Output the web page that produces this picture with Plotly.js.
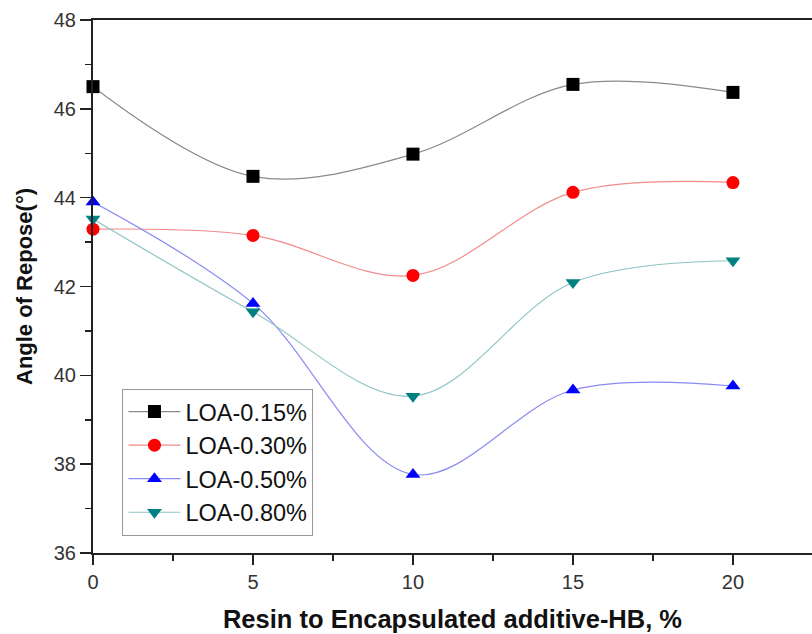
<!DOCTYPE html>
<html>
<head>
<meta charset="utf-8">
<script src="https://cdn.plot.ly/plotly-3.0.1.min.js"></script>
<style>html,body{margin:0;padding:0;background:#fff;}#chart{width:812px;height:634px;}</style>
</head>
<body>
<div id="chart"></div>
<script>
const xValues = [0, 5, 10, 15, 20];
const loa015 = [46.50, 44.48, 44.98, 46.55, 46.37];
const loa030 = [43.29, 43.15, 42.25, 44.12, 44.34];
const loa050 = [43.90, 41.62, 37.77, 39.67, 39.76];
const loa080 = [43.52, 41.43, 39.53, 42.09, 42.58];
const seriesNames = ["LOA-0.15%", "LOA-0.30%", "LOA-0.50%", "LOA-0.80%"];

function tr(name, y, sym, mcol, lcol) {
  return {
    x: xValues, y: y, name: name, type: 'scatter', mode: 'lines+markers',
    line: {shape: 'spline', smoothing: 1, color: lcol, width: 1.2},
    marker: {symbol: sym, color: mcol, size: 13, line: {width: 0}},
    cliponaxis: false
  };
}
const data = [
  tr(seriesNames[0], loa015, 'square', '#000000', '#8a8a8a'),
  tr(seriesNames[1], loa030, 'circle', '#ff0000', '#f28a8a'),
  tr(seriesNames[2], loa050, 'triangle-up', '#0000ff', '#8a8af2'),
  tr(seriesNames[3], loa080, 'triangle-down', '#008080', '#8cc4c4')
];
const layout = {
  width: 812, height: 634,
  margin: {l: 93, r: 0, t: 20, b: 81},
  paper_bgcolor: '#fff', plot_bgcolor: '#fff',
  font: {family: 'Arial, Liberation Sans, sans-serif', color: '#333'},
  showlegend: true,
  legend: {x: 0.041, y: 0.308, xanchor: 'left', yanchor: 'top',
    bordercolor: '#999', borderwidth: 1, bgcolor: '#fff',
    font: {size: 23.5, color: '#111'}, tracegroupgap: 0, itemwidth: 52},
  xaxis: {range: [0, 22.47], tickvals: [0, 5, 10, 15, 20], ticktext: ['0','5','10','15','20'],
    ticks: 'outside', ticklen: 10, tickwidth: 1.5, tickcolor: '#222',
    minor: {dtick: 2.5, tick0: 0, ticks: 'outside', ticklen: 6, tickwidth: 1.5, tickcolor: '#222'},
    showline: true, linecolor: '#222', linewidth: 2, mirror: true,
    showgrid: false, zeroline: false,
    tickfont: {size: 20, color: '#333'},
    title: {text: '<b>Resin to Encapsulated additive-HB, %</b>', font: {size: 25.5, color: '#111'}, standoff: 18}},
  yaxis: {range: [36, 48], tickvals: [36, 38, 40, 42, 44, 46, 48],
    ticks: 'outside', ticklen: 11, tickwidth: 1.5, tickcolor: '#222',
    minor: {dtick: 1, tick0: 36, ticks: 'outside', ticklen: 6, tickwidth: 1.5, tickcolor: '#222'},
    showline: true, linecolor: '#222', linewidth: 2,
    showgrid: false, zeroline: false,
    tickfont: {size: 20, color: '#333'},
    title: {text: '<b>Angle of Repose(°)</b>', font: {size: 22, color: '#111'}, standoff: 15}}
};
Plotly.newPlot('chart', data, layout, {displayModeBar: false, staticPlot: true});
</script>
</body>
</html>
